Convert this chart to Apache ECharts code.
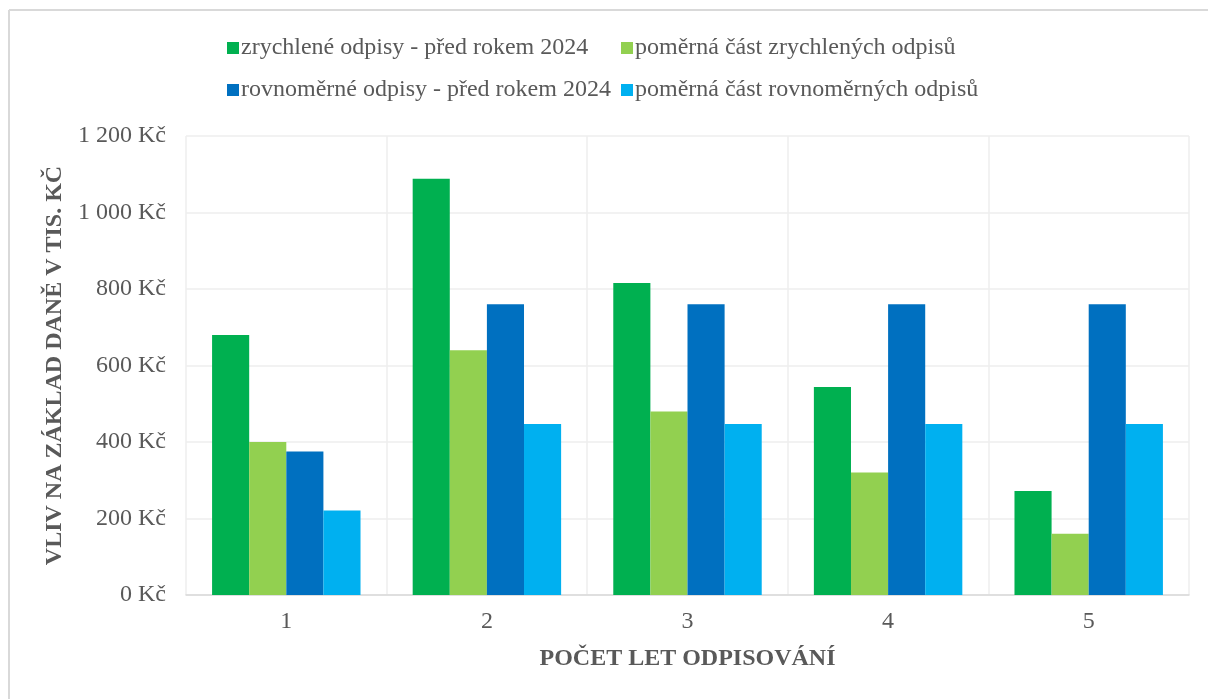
<!DOCTYPE html>
<html>
<head>
<meta charset="utf-8">
<script src="https://cdn.jsdelivr.net/npm/echarts@6/dist/echarts.min.js"></script>
<style>
  html, body { margin: 0; padding: 0; background: #ffffff; }
  #chart { width: 1208px; height: 699px; }
</style>
</head>
<body>
<div id="chart"></div>
<script>
// Počet let odpisování
const categories = ['1', '2', '3', '4', '5'];

// Vliv na základ daně (tis. Kč)
const zrychlenePred = [680, 1088, 816, 544, 272];
const pomernaZrychlene = [400, 640, 480, 320, 160];
const rovnomernePred = [375, 760, 760, 760, 760];
const pomernaRovnomerne = [221, 447, 447, 447, 447];

const seriesNames = [
  'zrychlené odpisy - před rokem 2024',
  'poměrná část zrychlených odpisů',
  'rovnoměrné odpisy - před rokem 2024',
  'poměrná část rovnoměrných odpisů'
];
const seriesColors = ['#00B050', '#92D050', '#0070C0', '#00B0F0'];

const yTicks = { min: 0, max: 1200, interval: 200 };

const FONT = '"Liberation Serif", "Times New Roman", serif';
const FONT_SIZE = 24;
const TEXT_COLOR = '#595959';

function formatKc(v) {
  // thousands separated by a space, e.g. "1 200 Kč"
  return String(v).replace(/\B(?=(\d{3})+(?!\d))/g, ' ') + ' Kč';
}

const legendPos = [
  { left: 227, top: 35 },
  { left: 621, top: 35 },
  { left: 227, top: 77 },
  { left: 621, top: 77 }
];

const chart = echarts.init(document.getElementById('chart'), null, { renderer: 'canvas' });

const seriesData = [zrychlenePred, pomernaZrychlene, rovnomernePred, pomernaRovnomerne];

const option = {
  backgroundColor: '#ffffff',
  animation: false,
  textStyle: { fontFamily: FONT },
  graphic: [
    { type: 'line', shape: { x1: 9, y1: 10, x2: 1208, y2: 10 }, style: { stroke: '#d9d9d9', lineWidth: 2 } },
    { type: 'line', shape: { x1: 9, y1: 10, x2: 9, y2: 699 }, style: { stroke: '#d9d9d9', lineWidth: 2 } }
  ],
  legend: seriesNames.map((name, i) => ({
    data: [name],
    left: legendPos[i].left,
    top: legendPos[i].top,
    orient: 'horizontal',
    icon: 'rect',
    itemWidth: 12,
    itemHeight: 12,
    padding: 0,
    selectedMode: false,
    textStyle: {
      fontFamily: FONT,
      fontSize: FONT_SIZE,
      color: TEXT_COLOR,
      lineHeight: 26,
      padding: [0, 0, 0, -3]
    }
  })),
  grid: {
    left: 186,
    right: 19,
    top: 136,
    bottom: 104,
    containLabel: false
  },
  xAxis: {
    type: 'category',
    data: categories,
    boundaryGap: true,
    name: 'POČET LET ODPISOVÁNÍ',
    nameLocation: 'middle',
    nameGap: 52,
    nameTextStyle: {
      fontFamily: FONT,
      fontSize: FONT_SIZE,
      fontWeight: 'bold',
      color: TEXT_COLOR
    },
    axisLine: { show: true, lineStyle: { color: '#d9d9d9', width: 1.5 } },
    axisTick: { show: false },
    axisLabel: {
      fontFamily: FONT,
      fontSize: FONT_SIZE,
      color: TEXT_COLOR,
      margin: 15
    },
    splitLine: { show: true, lineStyle: { color: '#eeeeee', width: 1.5 } }
  },
  yAxis: {
    type: 'value',
    min: yTicks.min,
    max: yTicks.max,
    interval: yTicks.interval,
    name: 'VLIV NA ZÁKLAD DANĚ V TIS. KČ',
    nameLocation: 'middle',
    nameRotate: 90,
    nameGap: 118,
    nameTextStyle: {
      fontFamily: FONT,
      fontSize: FONT_SIZE,
      fontWeight: 'bold',
      color: TEXT_COLOR
    },
    axisLine: { show: false },
    axisTick: { show: false },
    axisLabel: {
      fontFamily: FONT,
      fontSize: FONT_SIZE,
      color: TEXT_COLOR,
      margin: 20,
      formatter: formatKc
    },
    splitLine: { show: true, lineStyle: { color: '#eeeeee', width: 1.5 } }
  },
  series: seriesNames.map((name, i) => ({
    name: name,
    type: 'bar',
    data: seriesData[i],
    barGap: '0%',
    barCategoryGap: '26%',
    itemStyle: { color: seriesColors[i] }
  }))
};

chart.setOption(option);
</script>
</body>
</html>
